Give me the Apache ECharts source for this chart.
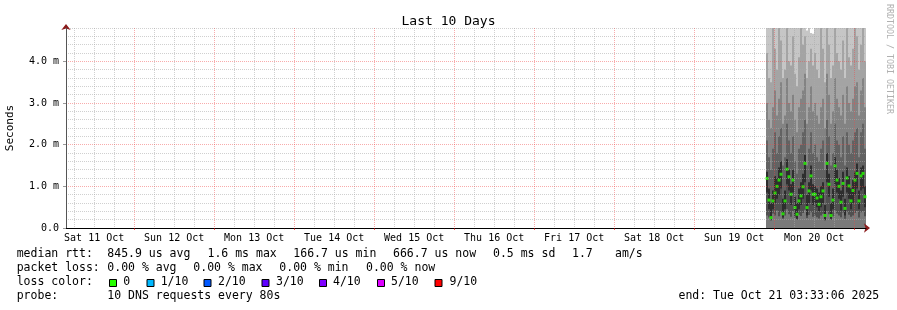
<!DOCTYPE html>
<html><head><meta charset="utf-8">
<script src="https://cdn.jsdelivr.net/npm/echarts@6/dist/echarts.min.js"></script>
<style>html,body{margin:0;padding:0;background:#fff}#c{width:897px;height:310px}</style>
</head><body><div id="c"></div>
<script>
// ---- tick labels ----
const dayLabels = ['Sat 11 Oct','Sun 12 Oct','Mon 13 Oct','Tue 14 Oct','Wed 15 Oct','Thu 16 Oct','Fri 17 Oct','Sat 18 Oct','Sun 19 Oct','Mon 20 Oct'];
const yTicks = [0, 1, 2, 3, 4];
const yTickLabels = ['0.0', '1.0 m', '2.0 m', '3.0 m', '4.0 m'];

// ---- time axis (hours since Sat 11 Oct 00:00) ----
const xStart = 3 + 33/60 + 6/3600;      // Sat 11 Oct 03:33:06
const xEnd = xStart + 240;              // Tue 21 Oct 03:33:06
const colStep = 0.6;                    // hours per column
const colCount = 50;
const colStart = xEnd - colCount * colStep;

// ---- per-column ping distribution (ms), lowest to highest ----
const smokeLo = [0.3,0.25,0.18,0.35,0.3,0.42,0.28,0.38,0.22,0.3,0.45,0.33,0.27,0.4,0.25,0.2,0.32,0.29,0.36,0.44,0.24,0.31,0.38,0.27,0.3,0.26,0.23,0.3,0.34,0.18,0.4,0.33,0.2,0.28,0.42,0.35,0.3,0.26,0.37,0.22,0.39,0.32,0.27,0.3,0.36,0.41,0.25,0.38,0.4,0.28];
const smokeDarkLo = [0.85,0.45,0.2,0.45,0.6,0.7,0.8,0.95,0.25,0.45,1.05,0.9,0.55,0.85,0.3,0.22,0.45,0.55,0.7,1.1,0.3,0.6,0.9,0.55,0.6,0.5,0.4,0.5,0.6,0.2,1.1,0.75,0.22,0.45,1.05,0.85,0.7,0.42,0.75,0.3,0.85,0.7,0.45,0.6,0.8,0.95,0.45,0.9,0.95,0.5];
const medianRtt = [1.19,0.67,0.25,0.65,0.84,1.0,1.15,1.29,0.34,0.65,1.41,1.23,0.81,1.15,0.49,0.33,0.65,0.77,0.99,1.55,0.49,0.89,1.25,0.81,0.81,0.72,0.57,0.75,0.89,0.30,1.55,1.05,0.30,0.67,1.49,1.15,1.0,0.62,1.07,0.47,1.2,1.01,0.65,0.9,1.15,1.31,0.65,1.25,1.31,0.75];
const smokeDarkHi = [1.35,0.95,0.6,0.9,1.25,1.2,1.45,1.6,0.7,0.9,1.65,1.4,1.05,1.4,0.75,0.6,0.95,1.1,1.3,1.75,0.8,1.1,1.5,1.05,1.0,0.95,0.85,1.0,1.1,0.55,1.8,1.3,0.6,0.95,1.7,1.4,1.2,0.9,1.35,0.7,1.45,1.25,0.95,1.15,1.35,1.55,0.9,1.45,1.5,1.0];
const smokeMid1 = [2.1,1.7,1.4,1.9,2.3,1.8,2.2,2.4,1.5,1.7,2.5,2.1,1.8,2.2,1.6,1.3,1.9,2.0,2.3,2.6,1.5,1.9,2.3,1.8,2.0,1.7,1.6,1.9,2.1,1.4,2.6,2.2,1.5,1.8,2.5,2.1,2.0,1.7,2.2,1.5,2.3,2.0,1.8,2.1,2.3,2.4,1.7,2.3,2.5,1.9];
const smokeMid2 = [3.0,2.6,2.4,2.9,3.3,2.7,3.1,3.5,2.5,2.7,3.6,3.0,2.8,3.2,2.6,2.3,2.9,3.1,3.3,3.7,2.5,2.9,3.4,2.8,3.0,2.7,2.5,2.9,3.1,2.4,3.7,3.2,2.5,2.8,3.6,3.1,2.9,2.7,3.2,2.5,3.4,3.0,2.8,3.1,3.4,3.5,2.7,3.3,3.6,2.9];
const smokeMid3 = [4.2,3.6,3.5,4.8,4.3,3.8,4.9,4.5,3.6,3.8,4.9,4.0,3.9,4.6,3.7,3.4,4.1,4.9,4.4,4.6,3.6,4.0,4.3,3.9,4.2,3.8,3.6,4.9,4.3,3.5,5.0,4.4,3.6,3.9,4.9,4.2,4.0,3.8,4.5,3.6,4.9,4.1,3.9,4.3,4.9,4.6,3.8,4.4,4.9,4.0];
const rttMax = [5.5,5.2,5.0,5.6,5.3,5.4,5.8,5.5,5.1,5.3,5.9,5.4,5.2,5.6,5.0,5.1,5.4,5.7,5.3,5.6,4.74,4.9,4.68,4.66,5.3,5.2,5.0,5.6,5.4,5.1,5.9,5.5,5.0,5.2,5.7,5.3,5.2,5.1,5.5,5.0,5.8,5.3,5.2,5.4,5.7,5.6,5.1,5.5,5.8,5.3];

// ---- legend ----
const lossLabels = ['0','1/10','2/10','3/10','4/10','5/10','9/10'];
const lossColors = ['#26ff00','#00b8ff','#0059ff','#5e00ff','#7e00ff','#dd00ff','#ff0000'];

const FONT = '"DejaVu Sans Mono", monospace';
const centers = medianRtt.map((_, k) => colStart + (k + 0.5) * colStep);

// Smoke: columns drawn from the highest envelope down (painter's order), all overlapping
const envelopes = [
  [rttMax, '#c6c6c6'], [smokeMid3, '#a4a4a4'], [smokeMid2, '#838383'], [smokeMid1, '#626262'],
  [smokeDarkHi, '#2e2e2e'], [smokeDarkLo, '#505050'], [smokeLo, '#7a7a7a']
];
const series = envelopes.map(([arr, color]) => ({
  type: 'bar', barWidth: 2, barGap: '-100%', silent: true, z: 1, clip: true,
  itemStyle: { color: color },
  data: centers.map((t, k) => [t, arr[k]])
}));
series.push({
  type: 'scatter', symbol: 'rect', symbolSize: [3, 3], silent: true, z: 2,
  itemStyle: { color: lossColors[0] },
  data: centers.map((t, k) => [t, medianRtt[k]])
});

const dayTicks = [], noonTicks = [], sixHourTicks = [];
for (let d = 0; d <= 10; d++) {
  if (d * 24 >= xStart) dayTicks.push(d * 24);
  if (d < dayLabels.length) noonTicks.push(d * 24 + 12);
  for (let h = 6; h < 24; h += 6) if (d * 24 + h <= xEnd && d * 24 + h >= xStart) sixHourTicks.push(d * 24 + h);
}
const yMinor = [];
for (let k = 1; k <= 24; k++) if (k % 5) yMinor.push(+(k * 0.2).toFixed(1));

const lines = [
  [['median rtt:', 16.7], ['845.9 us avg', 107.3], ['1.6 ms max', 207.5], ['166.7 us min', 293.3], ['666.7 us now', 393], ['0.5 ms sd', 493], ['1.7', 572], ['am/s', 615]],
  [['packet loss:', 16.7], ['0.00 % avg', 107.3], ['0.00 % max', 193.3], ['0.00 % min', 279.3], ['0.00 % now', 366]],
  [['loss color:', 16.7]],
  [['probe:', 16.7], ['10 DNS requests every 80s', 107.3], ['end: Tue Oct 21 03:33:06 2025', 678.5]]
];
const lineY = [254.5, 268.5, 282.5, 296.5];
const graphics = [];
lines.forEach((ln, i) => ln.forEach(([t, x]) => graphics.push({
  type: 'text', x: x, y: lineY[i], silent: true,
  style: { text: t, font: '11.5px ' + FONT, fill: '#000', textVerticalAlign: 'middle' }
})));
const boxX = [109, 146.5, 203.5, 261.5, 319, 377, 434.5];
const lblX = [123.3, 160.7, 218, 276, 333, 391, 449.5];
lossLabels.forEach((l, i) => {
  graphics.push({ type: 'rect', silent: true, shape: { x: boxX[i] + 0.5, y: 279.5, width: 7, height: 7 },
    style: { fill: lossColors[i], stroke: '#000', lineWidth: 1 } });
  graphics.push({ type: 'text', x: lblX[i], y: lineY[2], silent: true,
    style: { text: l, font: '11.5px ' + FONT, fill: '#000', textVerticalAlign: 'middle' } });
});
graphics.push({ type: 'text', x: 889, y: 4, rotation: -Math.PI / 2, silent: true,
  style: { text: 'RRDTOOL / TOBI OETIKER', font: '8.3px ' + FONT, fill: '#b0b0b0', textAlign: 'left', textVerticalAlign: 'middle' } });

const ARROW = '#8b1a1a';
const chart = echarts.init(document.getElementById('c'), null, { renderer: 'canvas' });
chart.setOption({
  animation: false,
  backgroundColor: '#fff',
  title: { text: 'Last 10 Days', left: 'center', top: 10, textStyle: { fontFamily: FONT, fontSize: 13, fontWeight: 'normal', color: '#000' } },
  grid: { left: 66, right: 31, top: 28, bottom: 82, containLabel: false, outerBoundsMode: 'none' },
  xAxis: [
    { type: 'value', min: xStart, max: xEnd, position: 'bottom', z: 6,
      axisLine: { show: true, onZero: false, lineStyle: { color: '#000', width: 1 } },
      axisTick: { show: true, customValues: dayTicks, length: 2, lineStyle: { color: 'rgba(230,0,0,0.6)' } },
      axisLabel: { customValues: noonTicks, margin: 5, fontFamily: FONT, fontSize: 10, color: '#000',
        formatter: v => dayLabels[Math.round((v - 12) / 24)] },
      splitLine: { show: true, lineStyle: { color: 'rgba(240,70,70,0.45)', type: [1, 1], width: 1 } } },
    { type: 'value', min: xStart, max: xEnd, position: 'top', z: 4,
      axisLine: { show: false }, axisTick: { show: false, customValues: sixHourTicks }, axisLabel: { show: false },
      splitLine: { show: true, lineStyle: { color: 'rgba(170,170,170,0.55)', type: [1, 1], width: 1 } } },
    { type: 'value', min: xStart, max: xEnd, position: 'bottom', z: 5,
      axisLine: { show: true, onZero: false, lineStyle: { color: ARROW, width: 1 }, symbol: ['none', 'arrow'], symbolSize: [7, 6], symbolOffset: [0, 4] },
      axisTick: { show: false }, axisLabel: { show: false }, splitLine: { show: false } }
  ],
  yAxis: [
    { type: 'value', min: 0, max: 4.8, position: 'left', z: 6,
      name: 'Seconds', nameLocation: 'middle', nameRotate: 90, nameGap: 50,
      nameTextStyle: { fontFamily: FONT, fontSize: 11, color: '#000' },
      axisLine: { show: true, lineStyle: { color: '#555', width: 1 } },
      axisTick: { show: true, customValues: yTicks, length: 3, lineStyle: { color: '#999' } },
      axisLabel: { customValues: yTicks, margin: 7, fontFamily: FONT, fontSize: 10, color: '#000',
        formatter: v => yTickLabels[yTicks.indexOf(Math.round(v))] },
      splitLine: { show: true, lineStyle: { color: 'rgba(240,70,70,0.45)', type: [1, 1], width: 1 } } },
    { type: 'value', min: 0, max: 4.8, position: 'right', z: 4,
      axisLine: { show: false }, axisTick: { show: false, customValues: yMinor }, axisLabel: { show: false },
      splitLine: { show: true, lineStyle: { color: 'rgba(170,170,170,0.55)', type: [1, 1], width: 1 } } },
    { type: 'value', min: 0, max: 4.8, position: 'left', z: 5,
      axisLine: { show: true, lineStyle: { color: ARROW, width: 1 }, symbol: ['none', 'arrow'], symbolSize: [7, 6], symbolOffset: [0, 4] },
      axisTick: { show: false }, axisLabel: { show: false }, splitLine: { show: false } }
  ],
  series: series,
  graphic: graphics
});
</script></body></html>
